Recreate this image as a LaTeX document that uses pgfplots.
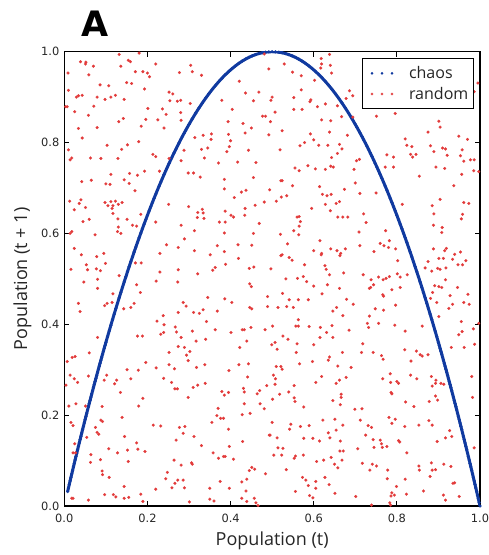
\documentclass[border=0pt]{standalone}
\usepackage{pgfplots}
\pgfplotsset{compat=1.18}
\usepackage{pgfplotstable}
\usepackage{fontspec}
\setmainfont{Open Sans}
\newfontfamily\tickfont{DejaVu Sans}
\newfontfamily\titlefont{DejaVu Sans}
\definecolor{redpt}{RGB}{226,58,58}
\definecolor{bluept}{RGB}{16,58,160}
\pgfplotsset{
  threedots/.style={legend image code/.code={\path[draw=none,fill=none] (-7pt,0pt) -- (35pt,0pt); \draw[mark repeat=1, mark phase=1, ##1, mark size=1.2pt] plot coordinates {(0pt,0pt) (10pt,0pt) (20pt,0pt)};}}
}

\pgfplotstableread{
x y
0.008 0.0317
0.010 0.0396
0.012 0.0474
0.014 0.0552
0.016 0.0630
0.018 0.0707
0.020 0.0784
0.022 0.0861
0.024 0.0937
0.026 0.1013
0.028 0.1089
0.030 0.1164
0.032 0.1239
0.034 0.1314
0.036 0.1388
0.038 0.1462
0.040 0.1536
0.042 0.1609
0.044 0.1683
0.046 0.1755
0.048 0.1828
0.050 0.1900
0.052 0.1972
0.054 0.2043
0.056 0.2115
0.058 0.2185
0.060 0.2256
0.062 0.2326
0.064 0.2396
0.066 0.2466
0.068 0.2535
0.070 0.2604
0.072 0.2673
0.074 0.2741
0.076 0.2809
0.078 0.2877
0.080 0.2944
0.082 0.3011
0.084 0.3078
0.086 0.3144
0.088 0.3210
0.090 0.3276
0.092 0.3341
0.094 0.3407
0.096 0.3471
0.098 0.3536
0.100 0.3600
0.104 0.3727
0.108 0.3853
0.112 0.3978
0.116 0.4102
0.120 0.4224
0.124 0.4345
0.128 0.4465
0.132 0.4583
0.136 0.4700
0.140 0.4816
0.144 0.4931
0.148 0.5044
0.152 0.5156
0.156 0.5267
0.160 0.5376
0.164 0.5484
0.168 0.5591
0.172 0.5697
0.176 0.5801
0.180 0.5904
0.184 0.6006
0.188 0.6106
0.192 0.6205
0.196 0.6303
0.200 0.6400
0.204 0.6495
0.208 0.6589
0.212 0.6682
0.216 0.6774
0.220 0.6864
0.224 0.6953
0.228 0.7041
0.232 0.7127
0.236 0.7212
0.240 0.7296
0.244 0.7379
0.248 0.7460
0.252 0.7540
0.256 0.7619
0.260 0.7696
0.264 0.7772
0.268 0.7847
0.272 0.7921
0.276 0.7993
0.280 0.8064
0.284 0.8134
0.288 0.8202
0.292 0.8269
0.296 0.8335
0.300 0.8400
0.308 0.8525
0.316 0.8646
0.324 0.8761
0.332 0.8871
0.340 0.8976
0.348 0.9076
0.356 0.9171
0.364 0.9260
0.372 0.9345
0.380 0.9424
0.388 0.9498
0.396 0.9567
0.404 0.9631
0.412 0.9690
0.420 0.9744
0.428 0.9793
0.436 0.9836
0.444 0.9875
0.452 0.9908
0.460 0.9936
0.468 0.9959
0.476 0.9977
0.484 0.9990
0.492 0.9997
0.500 1.0000
0.508 0.9997
0.516 0.9990
0.524 0.9977
0.532 0.9959
0.540 0.9936
0.548 0.9908
0.556 0.9875
0.564 0.9836
0.572 0.9793
0.580 0.9744
0.588 0.9690
0.596 0.9631
0.604 0.9567
0.612 0.9498
0.620 0.9424
0.628 0.9345
0.636 0.9260
0.644 0.9171
0.652 0.9076
0.660 0.8976
0.668 0.8871
0.676 0.8761
0.684 0.8646
0.692 0.8525
0.700 0.8400
0.704 0.8335
0.708 0.8269
0.712 0.8202
0.716 0.8134
0.720 0.8064
0.724 0.7993
0.728 0.7921
0.732 0.7847
0.736 0.7772
0.740 0.7696
0.744 0.7619
0.748 0.7540
0.752 0.7460
0.756 0.7379
0.760 0.7296
0.764 0.7212
0.768 0.7127
0.772 0.7041
0.776 0.6953
0.780 0.6864
0.784 0.6774
0.788 0.6682
0.792 0.6589
0.796 0.6495
0.800 0.6400
0.804 0.6303
0.808 0.6205
0.812 0.6106
0.816 0.6006
0.820 0.5904
0.824 0.5801
0.828 0.5697
0.832 0.5591
0.836 0.5484
0.840 0.5376
0.844 0.5267
0.848 0.5156
0.852 0.5044
0.856 0.4931
0.860 0.4816
0.864 0.4700
0.868 0.4583
0.872 0.4465
0.876 0.4345
0.880 0.4224
0.884 0.4102
0.888 0.3978
0.892 0.3853
0.896 0.3727
0.900 0.3600
0.902 0.3536
0.904 0.3471
0.906 0.3407
0.908 0.3341
0.910 0.3276
0.912 0.3210
0.914 0.3144
0.916 0.3078
0.918 0.3011
0.920 0.2944
0.922 0.2877
0.924 0.2809
0.926 0.2741
0.928 0.2673
0.930 0.2604
0.932 0.2535
0.934 0.2466
0.936 0.2396
0.938 0.2326
0.940 0.2256
0.942 0.2185
0.944 0.2115
0.946 0.2043
0.948 0.1972
0.950 0.1900
0.952 0.1828
0.954 0.1755
0.956 0.1683
0.958 0.1609
0.960 0.1536
0.962 0.1462
0.964 0.1388
0.966 0.1314
0.968 0.1239
0.970 0.1164
0.972 0.1089
0.974 0.1013
0.976 0.0937
0.978 0.0861
0.980 0.0784
0.982 0.0707
0.984 0.0630
0.986 0.0552
0.988 0.0474
0.990 0.0396
0.992 0.0317
0.994 0.0239
0.996 0.0159
0.998 0.0080
1.000 0.0000
}\chaostable

\begin{document}
\begin{tikzpicture}
\path[use as bounding box] (0,0) rectangle (489pt,555pt);
\begin{axis}[
  at={(64.3pt,49pt)},
  scale only axis,
  width=415.7pt, height=454.3pt,
  xmin=0, xmax=1, ymin=0, ymax=1,
  xtick={0,0.2,0.4,0.6,0.8,1}, ytick={0,0.2,0.4,0.6,0.8,1},
  xticklabels={0.0,0.2,0.4,0.6,0.8,1.0},
  yticklabels={0.0,0.2,0.4,0.6,0.8,1.0},
  /pgf/number format/assume math mode=true,
  ticklabel style={font=\fontsize{11.4}{13}\tickfont, text=black!85},
  xticklabel style={yshift=-5pt},
  yticklabel style={xshift=-1.5pt},
  tick align=inside,
  major tick length=5pt,
  tick style={black, line width=0.8pt},
  axis line style={black, line width=1.1pt},
  xlabel={Population (t)},
  ylabel={Population (t + 1)},
  xlabel style={at={(axis description cs:0.5,0)}, anchor=base, yshift=-40pt, font=\fontsize{18}{20}\selectfont, text=black!85},
  ylabel style={at={(axis description cs:-0.0897,0.5)}, anchor=base, font=\fontsize{18}{20}\selectfont, text=black!85},
  title={A},
  title style={at={(axis description cs:0.074,1.020)}, anchor=base, font=\fontsize{35}{37}\titlefont\bfseries},
  legend style={at={(axis description cs:0.985,0.986)}, anchor=north east,
    draw=black, line width=0.9pt, inner xsep=3pt, inner ysep=6pt,
    font=\fontsize{16}{18}\selectfont, text=black!85, row sep=3pt},
  legend cell align=left,
]
\addplot[draw=bluept, line width=3pt, forget plot] table[x=x, y=y] {\chaostable};
\addplot[only marks, mark=*, mark size=1.5pt, color=bluept,
  mark options={fill=bluept, draw=bluept, line width=0.2pt}, threedots]
  table[x=x, y=y] {\chaostable};
\addlegendentry{chaos}
\addplot[only marks, mark=*, mark size=1.45pt, color=redpt,
  mark options={fill=redpt, draw=redpt, line width=0.2pt}, threedots]
  coordinates {
(0.132,0.994)(0.180,0.997)(0.039,0.978)(0.052,0.977)(0.051,0.973)(0.070,0.968)(0.154,0.981)(0.159,0.978)(0.136,0.968)(0.220,0.973)(0.304,0.970)(0.009,0.953)(0.059,0.949)(0.171,0.956)(0.189,0.956)(0.200,0.953)(0.205,0.945)(0.277,0.954)(0.308,0.956)(0.330,0.948)(0.086,0.927)(0.107,0.925)(0.150,0.932)(0.162,0.930)(0.010,0.915)(0.193,0.918)(0.252,0.911)(0.421,0.935)(0.436,0.909)(0.468,0.911)(0.029,0.900)(0.034,0.903)(0.043,0.904)(0.079,0.900)(0.098,0.895)(0.112,0.900)(0.123,0.904)(0.144,0.895)(0.261,0.907)(0.254,0.892)(0.272,0.891)(0.280,0.893)(0.303,0.886)(0.379,0.893)(0.455,0.892)(0.003,0.879)(0.007,0.879)(0.071,0.880)(0.025,0.868)(0.201,0.875)(0.236,0.874)(0.245,0.862)(0.280,0.866)(0.404,0.873)(0.058,0.860)(0.142,0.853)(0.196,0.851)(0.225,0.850)(0.131,0.846)(0.281,0.849)(0.185,0.836)(0.034,0.831)(0.079,0.833)(0.240,0.832)(0.394,0.846)(0.430,0.842)(0.450,0.832)(0.435,0.821)(0.043,0.810)(0.179,0.802)(0.314,0.811)(0.334,0.816)(0.354,0.819)(0.353,0.807)(0.395,0.818)(0.400,0.804)(0.103,0.794)(0.152,0.795)(0.397,0.791)(0.010,0.784)(0.138,0.785)(0.288,0.783)(0.330,0.785)(0.345,0.788)(0.391,0.780)(0.443,0.783)(0.018,0.766)(0.014,0.762)(0.063,0.766)(0.088,0.765)(0.129,0.765)(0.213,0.774)(0.220,0.769)(0.252,0.765)(0.337,0.766)(0.281,0.760)(0.371,0.755)(0.417,0.757)(0.461,0.756)(0.298,0.733)(0.311,0.733)(0.193,0.737)(0.229,0.737)(0.112,0.730)(0.157,0.732)(0.176,0.728)(0.327,0.724)(0.042,0.714)(0.065,0.717)(0.100,0.709)(0.110,0.708)(0.144,0.718)(0.156,0.710)(0.385,0.719)(0.385,0.698)(0.455,0.723)(0.170,0.694)(0.437,0.695)(0.426,0.691)(0.409,0.679)(0.013,0.671)(0.040,0.674)(0.036,0.666)(0.098,0.668)(0.112,0.670)(0.123,0.671)(0.139,0.668)(0.105,0.661)(0.117,0.661)(0.115,0.655)(0.130,0.664)(0.051,0.657)(0.024,0.652)(0.251,0.664)(0.299,0.659)(0.321,0.646)(0.332,0.653)(0.334,0.645)(0.387,0.649)(0.435,0.655)(0.459,0.662)(0.117,0.644)(0.045,0.626)(0.060,0.631)(0.129,0.632)(0.151,0.631)(0.184,0.642)(0.220,0.625)(0.320,0.635)(0.336,0.633)(0.373,0.625)(0.387,0.625)(0.401,0.640)(0.407,0.636)(0.434,0.640)(0.469,0.622)(0.164,0.618)(0.174,0.616)(0.281,0.618)(0.313,0.606)(0.018,0.604)(0.014,0.600)(0.074,0.597)(0.128,0.604)(0.130,0.614)(0.136,0.600)(0.289,0.588)(0.385,0.601)(0.455,0.600)
(0.481,0.995)(0.492,0.962)(0.529,0.973)(0.549,0.955)(0.570,0.947)(0.618,0.985)(0.638,0.994)(0.619,0.973)(0.617,0.964)(0.640,0.970)(0.643,0.953)(0.602,0.937)(0.591,0.890)(0.593,0.894)(0.570,0.916)(0.552,0.899)(0.500,0.900)(0.497,0.893)(0.484,0.858)(0.477,0.858)(0.507,0.867)(0.496,0.846)(0.552,0.873)(0.572,0.873)(0.609,0.879)(0.628,0.885)(0.657,0.881)(0.678,0.897)(0.686,0.914)(0.694,0.903)(0.619,0.850)(0.641,0.848)(0.667,0.857)(0.694,0.856)(0.751,0.858)(0.796,0.864)(0.524,0.826)(0.492,0.817)(0.567,0.793)(0.578,0.800)(0.519,0.784)(0.592,0.819)(0.600,0.806)(0.612,0.794)(0.634,0.794)(0.638,0.823)(0.662,0.796)(0.668,0.786)(0.657,0.776)(0.681,0.816)(0.643,0.767)(0.641,0.748)(0.647,0.746)(0.628,0.741)(0.604,0.742)(0.586,0.749)(0.555,0.744)(0.565,0.738)(0.697,0.741)(0.703,0.760)(0.710,0.763)(0.776,0.773)(0.792,0.768)(0.792,0.746)(0.772,0.746)(0.820,0.808)(0.824,0.794)(0.836,0.791)(0.846,0.774)(0.833,0.774)(0.838,0.768)(0.854,0.726)(0.881,0.793)(0.889,0.780)(0.910,0.788)(0.917,0.786)(0.921,0.772)(0.894,0.746)(0.915,0.743)(0.875,0.823)(0.901,0.847)(0.904,0.834)(0.949,0.814)(0.970,0.807)(0.957,0.784)(0.953,0.771)(0.961,0.759)(0.977,0.762)(0.986,0.762)(0.985,0.738)(0.956,0.730)(0.937,0.705)(0.997,0.736)(0.995,0.931)(0.986,0.912)(0.521,0.716)(0.524,0.716)(0.549,0.705)(0.494,0.696)(0.522,0.680)(0.535,0.683)(0.481,0.669)(0.510,0.671)(0.560,0.636)(0.565,0.637)(0.568,0.626)(0.552,0.606)(0.565,0.616)(0.564,0.597)(0.520,0.598)(0.595,0.655)(0.614,0.703)(0.621,0.686)(0.632,0.683)(0.642,0.686)(0.628,0.664)(0.654,0.666)(0.640,0.650)(0.658,0.636)(0.662,0.670)(0.670,0.636)(0.682,0.636)(0.674,0.697)(0.700,0.711)(0.711,0.688)(0.720,0.643)(0.726,0.624)(0.709,0.603)(0.750,0.689)(0.813,0.664)(0.773,0.606)(0.885,0.661)(0.889,0.643)(0.904,0.675)(0.888,0.618)(0.909,0.613)(0.908,0.602)(0.961,0.668)(0.973,0.666)(0.958,0.642)(0.955,0.632)
(0.024,0.567)(0.041,0.553)(0.095,0.556)(0.078,0.549)(0.099,0.534)(0.053,0.531)(0.056,0.520)(0.016,0.521)(0.077,0.522)(0.087,0.518)(0.047,0.493)(0.080,0.499)(0.080,0.479)(0.132,0.507)(0.171,0.535)(0.185,0.535)(0.174,0.487)(0.183,0.470)(0.117,0.467)(0.103,0.446)(0.097,0.441)(0.115,0.448)(0.034,0.446)(0.038,0.428)(0.143,0.434)(0.160,0.437)(0.168,0.446)(0.176,0.374)(0.188,0.374)(0.080,0.371)(0.060,0.337)(0.007,0.318)(0.019,0.327)(0.026,0.329)(0.151,0.300)(0.178,0.299)(0.196,0.316)(0.221,0.304)(0.252,0.311)(0.265,0.302)(0.318,0.305)(0.338,0.311)(0.396,0.298)(0.420,0.311)(0.443,0.313)(0.246,0.575)(0.274,0.569)(0.313,0.562)(0.230,0.556)(0.351,0.553)(0.368,0.573)(0.385,0.560)(0.418,0.575)(0.451,0.574)(0.419,0.545)(0.445,0.523)(0.456,0.526)(0.388,0.532)(0.363,0.525)(0.357,0.519)(0.321,0.511)(0.274,0.520)(0.230,0.515)(0.273,0.493)(0.221,0.495)(0.446,0.489)(0.450,0.483)(0.345,0.459)(0.386,0.456)(0.403,0.448)(0.489,0.461)(0.286,0.448)(0.293,0.440)(0.274,0.426)(0.311,0.426)(0.325,0.424)(0.334,0.432)(0.368,0.429)(0.446,0.437)(0.451,0.434)(0.489,0.439)(0.238,0.419)(0.223,0.407)(0.240,0.399)(0.232,0.378)(0.239,0.382)(0.267,0.394)(0.270,0.383)(0.281,0.371)(0.308,0.385)(0.342,0.406)(0.363,0.388)(0.401,0.382)(0.428,0.388)(0.433,0.388)(0.449,0.393)(0.483,0.388)(0.439,0.363)(0.317,0.363)(0.340,0.367)(0.274,0.351)(0.289,0.349)(0.302,0.340)(0.294,0.332)(0.298,0.320)(0.252,0.338)(0.422,0.349)
(0.537,0.577)(0.524,0.553)(0.521,0.551)(0.541,0.547)(0.548,0.541)(0.600,0.562)(0.619,0.556)(0.618,0.553)(0.641,0.566)(0.656,0.562)(0.665,0.556)(0.663,0.551)(0.676,0.566)(0.615,0.584)(0.711,0.573)(0.745,0.560)(0.760,0.578)(0.769,0.573)(0.782,0.584)(0.780,0.569)(0.797,0.566)(0.802,0.540)(0.578,0.531)(0.627,0.529)(0.630,0.521)(0.497,0.522)(0.533,0.500)(0.561,0.501)(0.575,0.505)(0.583,0.494)(0.600,0.484)(0.638,0.509)(0.633,0.487)(0.672,0.513)(0.662,0.479)(0.719,0.509)(0.738,0.498)(0.744,0.487)(0.756,0.504)(0.767,0.498)(0.774,0.501)(0.782,0.505)(0.801,0.511)(0.808,0.504)(0.825,0.509)(0.734,0.479)(0.737,0.481)(0.808,0.481)(0.788,0.476)(0.766,0.465)(0.768,0.462)(0.620,0.467)(0.525,0.468)(0.514,0.437)(0.541,0.454)(0.563,0.454)(0.587,0.454)(0.535,0.439)(0.551,0.437)(0.646,0.429)(0.655,0.437)(0.679,0.455)(0.695,0.444)(0.670,0.419)(0.748,0.434)(0.768,0.431)(0.734,0.418)(0.797,0.442)(0.501,0.396)(0.563,0.410)(0.557,0.396)(0.563,0.396)(0.589,0.395)(0.616,0.393)(0.644,0.397)(0.729,0.402)(0.732,0.393)(0.756,0.402)(0.795,0.398)(0.685,0.387)(0.631,0.382)(0.615,0.371)(0.646,0.371)(0.526,0.374)(0.538,0.367)(0.507,0.360)(0.499,0.355)(0.512,0.345)(0.560,0.357)(0.600,0.355)(0.718,0.357)(0.558,0.338)(0.635,0.321)(0.638,0.328)(0.669,0.338)(0.715,0.338)(0.743,0.338)(0.763,0.331)(0.767,0.323)(0.597,0.318)(0.566,0.313)(0.658,0.308)(0.510,0.307)(0.521,0.307)(0.524,0.301)(0.820,0.385)(0.819,0.344)(0.847,0.341)(0.856,0.333)(0.861,0.330)(0.875,0.333)(0.834,0.319)(0.690,0.305)(0.888,0.566)(0.915,0.562)(0.919,0.567)(0.939,0.554)(0.953,0.559)(0.958,0.531)(0.966,0.540)(0.947,0.531)(0.934,0.543)(0.912,0.545)(0.901,0.545)(0.875,0.538)(0.898,0.523)(0.904,0.521)(0.918,0.524)(0.868,0.524)(0.884,0.517)(0.917,0.498)(0.908,0.481)(0.901,0.483)(0.886,0.470)(0.881,0.457)(0.891,0.485)(0.928,0.463)(0.946,0.481)(0.971,0.466)(0.934,0.444)(0.961,0.448)(0.974,0.444)(0.925,0.435)(0.901,0.417)(0.896,0.448)(0.955,0.406)(0.997,0.402)(0.984,0.390)(0.957,0.384)(0.949,0.377)(0.987,0.356)(0.931,0.349)(0.962,0.349)(0.861,0.396)
(0.014,0.288)(0.024,0.280)(0.032,0.272)(0.058,0.286)(0.102,0.288)(0.096,0.277)(0.121,0.269)(0.126,0.277)(0.160,0.280)(0.239,0.281)(0.258,0.272)(0.266,0.258)(0.272,0.258)(0.298,0.239)(0.310,0.261)(0.321,0.266)(0.339,0.270)(0.004,0.266)(0.011,0.220)(0.028,0.225)(0.051,0.220)(0.091,0.219)(0.135,0.250)(0.179,0.220)(0.189,0.237)(0.088,0.189)(0.092,0.186)(0.139,0.195)(0.016,0.184)(0.021,0.177)(0.075,0.173)(0.079,0.162)(0.083,0.158)(0.054,0.151)(0.025,0.137)(0.021,0.117)(0.027,0.117)(0.064,0.113)(0.063,0.096)(0.087,0.102)(0.107,0.126)(0.128,0.117)(0.145,0.153)(0.152,0.123)(0.154,0.098)(0.174,0.139)(0.177,0.125)(0.194,0.120)(0.214,0.178)(0.232,0.176)(0.277,0.173)(0.290,0.175)(0.286,0.160)(0.269,0.145)(0.312,0.153)(0.330,0.133)(0.358,0.117)(0.371,0.105)(0.383,0.109)(0.387,0.109)(0.397,0.131)(0.407,0.103)(0.429,0.142)(0.395,0.169)(0.376,0.193)(0.383,0.193)(0.367,0.199)(0.355,0.184)(0.370,0.215)(0.428,0.201)(0.433,0.225)(0.447,0.204)(0.471,0.225)(0.481,0.214)(0.493,0.156)(0.379,0.252)(0.385,0.244)(0.395,0.250)(0.431,0.259)(0.433,0.251)(0.464,0.247)(0.470,0.254)(0.487,0.265)(0.441,0.284)(0.264,0.101)(0.281,0.090)(0.306,0.095)(0.308,0.092)(0.091,0.077)(0.092,0.069)(0.108,0.063)(0.248,0.074)(0.244,0.060)(0.273,0.057)(0.286,0.057)(0.266,0.050)(0.259,0.040)(0.289,0.040)(0.144,0.043)(0.220,0.037)(0.097,0.025)(0.118,0.025)(0.124,0.020)(0.144,0.017)(0.155,0.019)(0.184,0.026)(0.189,0.010)(0.018,0.017)(0.021,0.017)(0.058,0.013)(0.301,0.009)(0.350,0.039)(0.350,0.015)(0.360,0.011)(0.375,0.054)(0.397,0.039)(0.427,0.053)(0.439,0.059)(0.437,0.033)(0.427,0.017)(0.439,0.010)(0.457,0.017)(0.461,0.007)(0.466,0.001)(0.451,0.085)(0.458,0.081)(0.445,0.078)(0.484,0.071)
(0.503,0.288)(0.508,0.280)(0.507,0.268)(0.501,0.235)(0.518,0.246)(0.540,0.251)(0.553,0.265)(0.553,0.238)(0.555,0.230)(0.576,0.218)(0.605,0.272)(0.619,0.285)(0.654,0.270)(0.662,0.277)(0.678,0.283)(0.666,0.246)(0.666,0.239)(0.664,0.223)(0.646,0.232)(0.699,0.213)(0.716,0.214)(0.712,0.189)(0.622,0.189)(0.651,0.191)(0.670,0.178)(0.731,0.177)(0.739,0.173)(0.766,0.280)(0.784,0.291)(0.785,0.272)(0.786,0.250)(0.788,0.247)(0.800,0.274)(0.804,0.270)(0.833,0.288)(0.848,0.280)(0.883,0.285)(0.894,0.277)(0.893,0.270)(0.906,0.270)(0.913,0.268)(0.893,0.242)(0.898,0.233)(0.878,0.230)(0.821,0.229)(0.841,0.219)(0.885,0.264)(0.781,0.195)(0.788,0.182)(0.796,0.191)(0.819,0.175)(0.853,0.178)(0.877,0.188)(0.885,0.178)(0.500,0.184)(0.545,0.180)(0.542,0.169)(0.568,0.175)(0.589,0.177)(0.495,0.156)(0.512,0.150)(0.514,0.128)(0.526,0.127)(0.504,0.112)(0.523,0.112)(0.534,0.080)(0.556,0.110)(0.553,0.105)(0.575,0.112)(0.576,0.149)(0.598,0.149)(0.614,0.143)(0.635,0.161)(0.639,0.150)(0.654,0.167)(0.664,0.143)(0.663,0.121)(0.671,0.121)(0.706,0.126)(0.725,0.156)(0.743,0.146)(0.760,0.145)(0.763,0.137)(0.765,0.129)(0.776,0.131)(0.745,0.129)(0.804,0.144)(0.807,0.141)(0.824,0.117)(0.607,0.098)(0.624,0.101)(0.642,0.107)(0.650,0.092)(0.668,0.101)(0.658,0.084)(0.717,0.094)(0.741,0.092)(0.751,0.088)(0.735,0.079)(0.778,0.079)(0.853,0.088)(0.854,0.079)(0.883,0.095)(0.885,0.079)(0.893,0.080)(0.913,0.092)(0.930,0.087)(0.897,0.142)(0.917,0.150)(0.927,0.166)(0.932,0.153)(0.986,0.128)(0.980,0.285)(0.982,0.239)(0.573,0.063)(0.581,0.057)(0.605,0.054)(0.627,0.063)(0.587,0.045)(0.605,0.039)(0.637,0.047)(0.556,0.032)(0.590,0.023)(0.598,0.018)(0.651,0.028)(0.701,0.021)(0.777,0.060)(0.820,0.059)(0.880,0.065)(0.935,0.050)(0.939,0.051)(0.799,0.043)(0.788,0.029)(0.794,0.024)(0.786,0.022)(0.823,0.026)(0.864,0.033)(0.912,0.024)(0.917,0.013)(0.950,0.021)(0.739,0.002)(0.783,0.007)(0.785,0.002)
};
\addlegendentry{random}
\end{axis}
\end{tikzpicture}
\end{document}
